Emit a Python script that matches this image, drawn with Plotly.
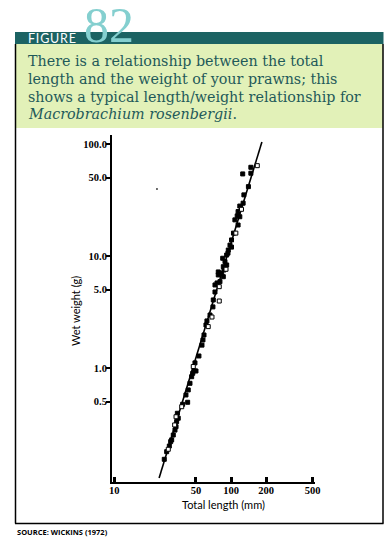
import plotly.graph_objects as go

# ---------------- data ----------------
length_filled = [26.8, 28.1, 29.6, 30.4, 31.0, 32.0, 33.1, 33.8, 34.2, 34.7, 35.3,
                 38.5, 42.5, 41.1, 43.0, 44.5, 46.0, 47.0, 48.4, 50.1, 49.1, 53.1,
                 56.4, 57.5, 58.7, 61.0, 62.2, 66.1, 70.0, 70.5, 72.9, 72.9, 75.9,
                 80.4, 77.8, 77.8, 83.2, 85.9, 87.1, 85.9, 91.8, 88.8, 84.9, 91.8,
                 94.2, 94.8, 101, 98.0, 101, 105, 115, 108, 113, 119, 115, 119, 127,
                 129, 141, 126, 148, 148]
weight_filled = [0.153, 0.179, 0.201, 0.220, 0.228, 0.252, 0.279, 0.299, 0.332, 0.394, 0.356,
                 0.474, 0.494, 0.574, 0.637, 0.730, 0.836, 0.897, 0.946, 0.940, 1.11, 1.28,
                 1.60, 1.78, 1.97, 2.42, 2.63, 2.97, 3.51, 4.05, 4.77, 5.51, 5.74,
                 5.90, 7.20, 6.77, 7.01, 6.53, 7.50, 8.02, 8.31, 8.90, 9.54, 10.2,
                 10.6, 11.3, 12.0, 12.5, 13.9, 16.0, 18.9, 21.0, 22.8, 22.4, 24.9, 27.9, 29.6,
                 35.1, 41.6, 54.0, 54.8, 61.9]

length_open = [29.0, 32.9, 33.8, 37.8, 47.5, 63.8, 68.7, 79.3, 79.3, 90.6, 110, 123, 168]
weight_open = [0.188, 0.310, 0.367, 0.451, 1.03, 2.34, 2.85, 3.96, 5.32, 7.61, 16.0, 26.1, 64.0]

fit_length = [24.2, 184]
fit_weight = [0.104, 104]

stray_length = [23.2]
stray_weight = [39.6]

x_ticks = [10, 50, 100, 200, 500]
x_ticktext = ["10", "50", "100", "200", "500"]
y_ticks = [0.5, 1, 5, 10, 50, 100]
y_ticktext = ["0.5", "1.0", "5.0", "10.0", "50.0", "100.0"]

title_lines = [
    "There is a relationship between the total",
    "length and the weight of your prawns; this",
    "shows a typical length/weight relationship for",
    "<i>Macrobrachium rosenbergii</i>.",
]

# ---------------- layout geometry (page pixels) ----------------
W, H = 388, 547
L, R, T, B = 112, 315, 135, 482


def px(x):
    return (x - L) / (R - L)


def py(y):
    return (B - y) / (B - T)


TEAL = "#1c6363"
LIGHT_TEAL = "#84cfcf"
GREEN = "#e2f1b8"
TEXT_TEAL = "#1f5a5a"

fig = go.Figure()

fig.add_trace(go.Scatter(x=fit_length, y=fit_weight, mode="lines",
                         line=dict(color="black", width=1.6), hoverinfo="skip"))
fig.add_trace(go.Scatter(x=length_filled, y=weight_filled, mode="markers",
                         marker=dict(symbol="square", size=4, color="black",
                                     line=dict(color="black", width=1))))
fig.add_trace(go.Scatter(x=length_open, y=weight_open, mode="markers",
                         marker=dict(symbol="square", size=4, color="white",
                                     line=dict(color="black", width=1))))
fig.add_trace(go.Scatter(x=stray_length, y=stray_weight, mode="markers",
                         marker=dict(symbol="square", size=1.5, color="black")))

tickfont = dict(family="Liberation Serif", size=10.5, color="black", weight="bold")

fig.update_xaxes(type="log", range=[0.98, 2.72], tickvals=x_ticks, ticktext=x_ticktext,
                 showgrid=False, zeroline=False, showline=True, linecolor="black",
                 linewidth=2, ticks="inside", ticklen=5, tickwidth=2.5, tickcolor="black",
                 tickfont=tickfont, ticklabelstandoff=-3)
fig.update_yaxes(type="log", range=[-1.018, 2.08], tickvals=y_ticks, ticktext=y_ticktext,
                 showgrid=False, zeroline=False, showline=True, linecolor="black",
                 linewidth=2, ticks="outside", ticklen=4, tickwidth=2, tickcolor="black",
                 tickfont=tickfont, ticklabelstandoff=-3)

shapes = [
    dict(type="rect", xref="paper", yref="paper", x0=px(15), x1=px(383), y0=py(128), y1=py(44),
         fillcolor=GREEN, line=dict(width=0)),
    dict(type="rect", xref="paper", yref="paper", x0=px(15), x1=px(383.5), y0=py(44), y1=py(32),
         fillcolor=TEAL, line=dict(width=0)),
    dict(type="line", xref="paper", yref="paper", x0=px(15.5), x1=px(15.5), y0=py(44), y1=py(523.5),
         line=dict(color="black", width=1.5)),
    dict(type="line", xref="paper", yref="paper", x0=px(383), x1=px(383), y0=py(44), y1=py(523.5),
         line=dict(color="black", width=1.5)),
    dict(type="line", xref="paper", yref="paper", x0=px(15), x1=px(383.5), y0=py(523.5), y1=py(523.5),
         line=dict(color="black", width=1.5)),
]

annotations = [
    dict(text="82", xref="paper", yref="paper", x=px(81.5), y=py(55), xanchor="left", yanchor="bottom",
         showarrow=False, font=dict(family="Liberation Serif", size=50, color=LIGHT_TEAL)),
    dict(text="F\u200aI\u200aG\u200aU\u200aR\u200aE", xref="paper", yref="paper", x=px(26), y=py(38.5),
         xanchor="left", yanchor="middle", showarrow=False,
         font=dict(family="Lato", size=12.5, color="white")),
    dict(text="SOURCE: WICKINS (1972)", xref="paper", yref="paper", x=px(15), y=py(532),
         xanchor="left", yanchor="middle", showarrow=False,
         font=dict(family="Open Sans", size=7.5, color="black", weight="bold")),
    dict(text="Total length (mm)", xref="paper", yref="paper", x=px(223), y=py(504),
         xanchor="center", yanchor="middle", showarrow=False,
         font=dict(family="Lato", size=11, color="black")),
    dict(text="Wet weight (g)", xref="paper", yref="paper", x=px(75), y=py(311), textangle=-90,
         xanchor="center", yanchor="middle", showarrow=False,
         font=dict(family="Lato", size=11, color="black")),
]
for i, line in enumerate(title_lines):
    annotations.append(dict(text=line, xref="paper", yref="paper", x=px(26), y=py(61.5 + 17.6 * i),
                            xanchor="left", yanchor="middle", showarrow=False,
                            font=dict(family="DejaVu Serif", size=14.3, color=TEXT_TEAL)))

fig.update_layout(width=W, height=H,
                  margin=dict(l=L, r=W - R, t=T, b=H - B, pad=0),
                  paper_bgcolor="white", plot_bgcolor="white", showlegend=False,
                  shapes=shapes, annotations=annotations)

fig.write_html("out.html", config={"displayModeBar": False},
               post_script="document.body.style.margin='0';document.body.style.overflow='hidden';")
